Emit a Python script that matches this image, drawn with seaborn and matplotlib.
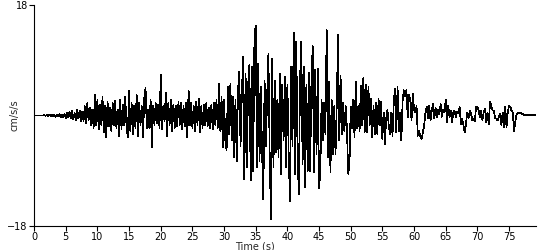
import numpy as np
import pandas as pd
import matplotlib
matplotlib.use("Agg")
import matplotlib.pyplot as plt
import seaborn as sns

acc = [
    0, 0, 0, 0, 0,                       # 0 s
    0, 0, 0, 0.05, -0.05,                # 1
    0.1, -0.1, 0.15, -0.1, 0.1,          # 2
    -0.15, 0.1, -0.2, 0.15, -0.1,        # 3
    0.2, -0.25, 0.15, -0.3, 0.3,         # 4
    -0.4, 0.5, -0.3, 0.6, -0.5,          # 5
    0.7, -0.6, 0.4, -0.8, 0.9,           # 6
    -0.5, 0.8, -1.0, 0.6, -0.9,          # 7
    1.5, -1.2, 2.0, -0.8, 1.2,           # 8
    -1.6, 1.0, -2.0, 3.3, -1.5,          # 9
    2.5, -2.2, 1.8, -1.5, 3.0,           # 10
    -2.7, 1.5, -3.5, 2.2, -1.8,          # 11
    1.2, -2.5, 2.0, -1.5, 2.4,           # 12
    -2.0, 1.0, -3.4, 2.5, -2.2,          # 13
    1.8, -1.5, 3.0, -2.0, -3.5,          # 14
    4.1, -2.5, 2.0, -3.0, 1.5,           # 15
    -2.0, 3.3, -3.3, 2.0, -1.5,          # 16
    1.5, -3.5, 2.8, 4.5, -2.0,           # 17
    1.0, -2.0, 2.5, -5.1, 1.5,           # 18
    -1.5, 2.0, -1.2, 1.8, -2.0,          # 19
    6.7, -2.3, 1.5, -1.0, 3.7,           # 20
    -3.3, 2.0, -1.5, 2.5, -2.5,          # 21
    1.8, -2.0, 1.5, -1.8, 2.2,           # 22
    -1.5, 2.0, -2.2, 1.5, -1.8,          # 23
    2.0, -3.5, 4.1, -1.5, 2.0,           # 24
    -2.0, 1.5, -2.5, 2.2, -1.5,          # 25
    2.7, -2.7, 1.5, -2.0, 1.8,           # 26
    -1.5, 2.0, -1.8, 1.2, -2.0,          # 27
    1.8, -2.2, 2.0, -1.5, 2.5,           # 28
    -2.0, 5.2, -2.5, 3.0, -5.2,          # 29
    2.5, -4.0, -5.7, 4.6, -3.0,          # 30
    5.2, -4.0, 3.0, -6.8, 2.5,           # 31
    -7.4, 4.0, 7.1, -5.0, 3.0,           # 32
    9.5, -10.4, 6.8, -8.5, 5.0,          # 33
    8.2, -10.6, 7.9, -9.0, 13.1,         # 34
    14.6, -8.5, 8.5, -7.4, 4.7,          # 35
    -6.0, -13.6, 5.7, -5.0, 3.0,         # 36
    10.1, -6.0, -16.9, 9.3, -8.5,        # 37
    5.7, -6.0, 2.5, -6.8, 6.8,           # 38
    -9.5, 5.0, -4.0, 6.3, -8.5,          # 39
    5.0, -6.0, -13.9, 8.0, -5.0,         # 40
    13.5, -9.5, 12.0, -6.0, -12.8,       # 41
    6.0, 12.0, -8.0, 7.9, -11.7,         # 42
    5.0, -9.0, 7.0, -9.0, 6.0,           # 43
    11.3, -9.3, 7.4, -6.3, 7.6,          # 44
    -11.8, -9.3, 2.5, -4.0, 2.0,         # 45
    -3.0, 13.9, -6.8, 5.5, -9.3,         # 46
    2.5, -6.3, 1.5, -6.3, 2.0,           # 47
    13.1, -4.0, 6.5, -3.0, 2.0,          # 48
    -2.5, 1.5, -2.0, -9.5, -8.2,         # 49
    1.4, -2.0, 2.5, -3.5, 5.5,           # 50
    -2.0, 1.5, -2.5, 4.9, -1.5,          # 51
    6.2, -2.7, 5.0, -2.8, 4.6,           # 52
    -1.5, 2.7, -3.5, 1.5, -3.0,          # 53
    2.0, -3.0, 2.7, -1.5, 2.2,           # 54
    -3.8, 0.5, -4.6, -0.5, 1.0,          # 55
    -1.6, -3.0, 0.5, -3.3, 2.2,          # 56
    4.4, -2.7, 4.6, -2.5, 0.5,           # 57
    -4.1, 2.5, 4.1, 3.2, 4.2,            # 58
    -0.3, 3.3, 2.5, -0.8, 3.5,           # 59
    1.0, 0.5, 1.5, -3.3, -2.5,           # 60
    -3.5, -3.8, -2.7, -1.6, 0.5,         # 61
    1.4, -0.5, 1.6, -0.8, 0.8,           # 62
    1.9, -0.5, 1.2, -0.3, 1.0,           # 63
    0.2, 1.9, -0.2, 1.0, 0.5,            # 64
    2.6, -1.1, 1.6, -0.3, 0.8,           # 65
    -1.1, 0.5, 0.8, -0.3, 0.6,           # 66
    0.3, 1.4, -1.4, -0.5, -1.6,          # 67
    -2.7, -1.4, 0.5, -0.5, 0.8,          # 68
    0.3, -0.8, -0.5, -1.0, 1.4,          # 69
    1.4, 0.8, -0.3, 0.8, -0.8,           # 70
    0.5, 1.1, -1.1, 0.5, -1.4,           # 71
    2.2, 1.6, 0.8, 0.8, -0.5,            # 72
    -0.5, -0.8, -0.3, 0.3, -1.6,         # 73
    0.5, -1.9, 1.4, -1.9, 0.5,           # 74
    1.6, 1.4, 0.8, 0.5, -2.5,            # 75
    -1.0, 0.2, 0.5, 0.3, 0.4,            # 76
    0.3, 0.2, 0.1, 0.1, 0.1,             # 77
    0.1, 0.1, 0.1, 0.1, 0.1,             # 78
    0.1, 0.1,                            # 79
]
dt = 0.2
time = np.round(np.arange(len(acc)) * dt, 2)

x_ticks = list(range(0, 80, 5))
y_ticks = [-18, 18]
x_label = "Time (s)"
y_label = "cm/s/s"

df = pd.DataFrame({"t": time, "a": acc})

sns.set_style("ticks")
plt.rcParams["font.family"] = ["DejaVu Sans"]

fig = plt.figure(figsize=(5.5, 2.5), dpi=100)
ax = fig.add_axes([0.062, 0.096, 0.913, 0.884])
sns.lineplot(data=df, x="t", y="a", ax=ax, color="black", linewidth=0.5)
for ln in ax.lines:
    ln.set_antialiased(False)

ax.set_xlim(0, 79.3)
ax.set_ylim(-18, 18)
ax.set_xticks(x_ticks)
ax.set_yticks(y_ticks)
ax.tick_params(axis="both", labelsize=7, length=3.5, width=0.8, pad=1, colors="black")
ax.tick_params(axis="x", pad=0.5)
for s in ["top", "right"]:
    ax.spines[s].set_visible(False)
for s in ["left", "bottom"]:
    ax.spines[s].set_linewidth(0.8)
    ax.spines[s].set_color("black")
ax.set_xlabel(x_label, fontsize=7)
ax.set_ylabel(y_label, fontsize=7)
ax.xaxis.set_label_coords(0.44, -0.07)
ax.yaxis.set_label_coords(-0.03, 0.5)

fig.savefig("out.png", dpi=100)
